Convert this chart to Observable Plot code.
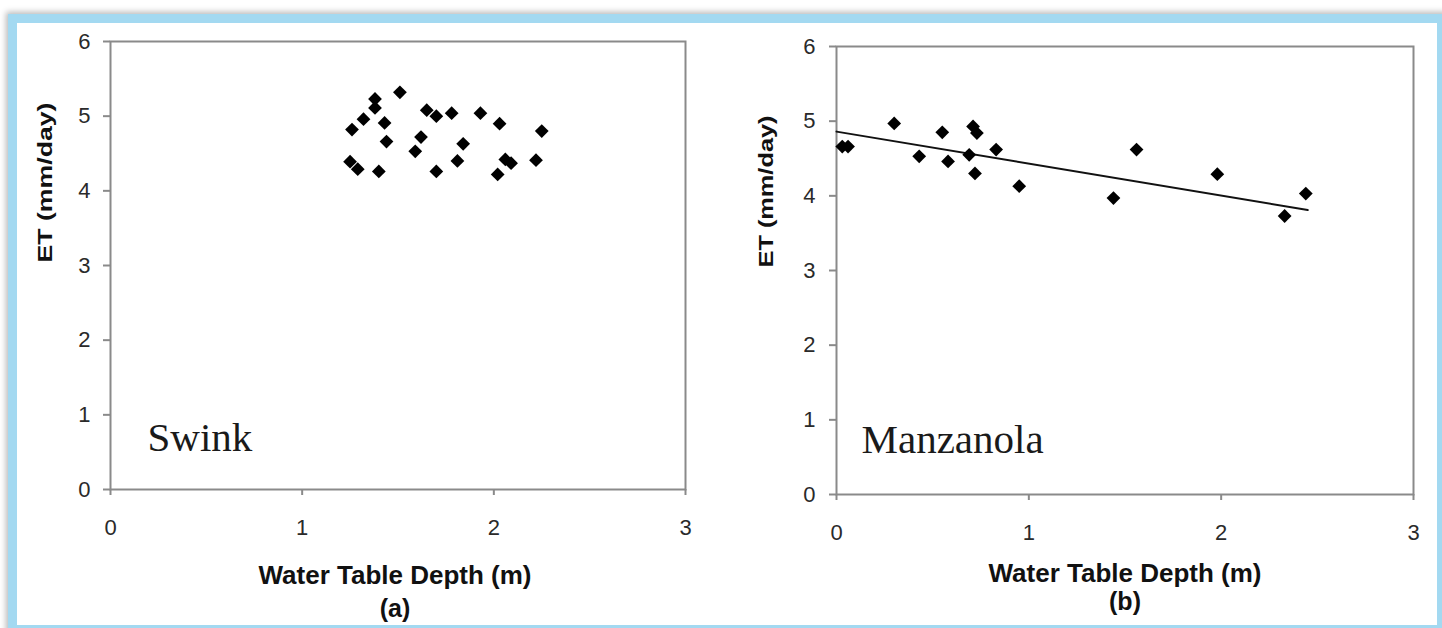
<!DOCTYPE html>
<html><head><meta charset="utf-8">
<script src="https://cdn.jsdelivr.net/npm/d3@7"></script>
<script src="https://cdn.jsdelivr.net/npm/@observablehq/plot@0.6"></script>
<style>
html,body{margin:0;padding:0;width:1442px;height:628px;overflow:hidden;background:#fff;}
#frame{position:absolute;left:8px;top:14px;width:1420px;height:602px;border:9px solid #a3d9f1;box-shadow:0 0 6px 2px rgba(0,0,0,0.28);background:#fff;}
#a,#b{position:absolute;top:0;}
#a{left:0;} #b{left:720px;}
</style></head><body>
<div id="frame"></div>
<div id="a"></div><div id="b"></div>
<script>
// ---- data ----
const xTicks = [0, 1, 2, 3];
const yTicks = [0, 1, 2, 3, 4, 5, 6];
const xTitle = "Water Table Depth (m)";
const yTitle = "ET (mm/day)";

const swinkName = "Swink";
const swinkTag = "(a)";
const swinkDepth = [1.51,1.38,1.38,1.32,1.26,1.43,1.65,1.70,1.78,1.93,2.03,2.25,1.62,1.44,1.84,1.59,1.25,1.29,1.40,1.81,1.70,2.06,2.09,2.22,2.02];
const swinkET    = [5.32,5.23,5.11,4.96,4.82,4.91,5.08,5.00,5.04,5.04,4.90,4.80,4.72,4.66,4.63,4.53,4.39,4.29,4.26,4.40,4.26,4.42,4.37,4.41,4.22];

const manzName = "Manzanola";
const manzTag = "(b)";
const manzDepth = [0.03,0.06,0.30,0.43,0.55,0.58,0.71,0.73,0.69,0.83,0.72,0.95,1.44,1.56,1.98,2.33,2.44];
const manzET    = [4.66,4.66,4.97,4.53,4.85,4.46,4.93,4.84,4.55,4.62,4.30,4.13,3.97,4.62,4.29,3.73,4.03];
const manzTrendDepth = [0, 2.45];
const manzTrendET    = [4.86, 3.81];

// ---- drawing ----
const SANS = "'Liberation Sans', Arial, sans-serif";
const AXIS = "#8a8a8a";

function panel(o) {
  const pts = o.depth.map((d, i) => ({depth: d, et: o.et[i]}));
  const marks = [
    Plot.frame({stroke: AXIS, strokeWidth: 2}),
    Plot.axisX({ticks: xTicks, tickFormat: d => String(d), tickSize: 6, tickPadding: 24,
      stroke: AXIS, strokeWidth: 2, color: "#2a2a2a", label: null}),
    Plot.axisY({ticks: yTicks, tickFormat: d => String(d), tickSize: 7, tickPadding: o.yPad,
      stroke: AXIS, strokeWidth: 2, color: "#2a2a2a", label: null}),
  ];
  if (o.trendX) {
    const tr = o.trendX.map((d, i) => ({depth: d, et: o.trendY[i]}));
    marks.push(Plot.line(tr, {x: "depth", y: "et", stroke: "#111", strokeWidth: 2}));
  }
  marks.push(
    Plot.dot(pts, {x: "depth", y: "et", symbol: "diamond2", r: 6.2, fill: "#000", stroke: "none"}),
    Plot.text([o.name], {text: d => d, frameAnchor: "bottom-left", textAnchor: "start", lineAnchor: "bottom",
      dx: o.nameDx, dy: o.nameDy, fontFamily: "'Liberation Serif', 'Times New Roman', serif", fontSize: 41, fill: "#1a1a1a"}),
    Plot.text([yTitle], {text: d => d, frameAnchor: "left", rotate: -90, dx: o.etDx, dy: o.etDy,
      fontFamily: SANS, fontSize: 20, fontWeight: "bold", fill: "#111"}),
    Plot.text([xTitle], {text: d => d, frameAnchor: "bottom", lineAnchor: "bottom", dx: o.tDx, dy: o.tDy,
      fontFamily: SANS, fontSize: 26, fontWeight: "bold", fill: "#111"}),
    Plot.text([o.tag], {text: d => d, frameAnchor: "bottom", lineAnchor: "bottom", dx: o.tDx, dy: o.sDy,
      fontFamily: SANS, fontSize: 25, fontWeight: "bold", fill: "#111"})
  );
  const svg = Plot.plot({
    width: o.width, height: 628,
    marginLeft: o.ml, marginRight: o.mr, marginTop: o.mt, marginBottom: o.mb,
    x: {domain: [0, 3]}, y: {domain: [0, 6]},
    style: {background: "transparent", overflow: "visible", fontFamily: SANS, fontSize: "22px"},
    marks
  });
  const s = d3.select(svg);
  s.selectAll("text").filter(function(){ return /^[0-9]$/.test(this.textContent); })
    .style("font-size", "22px").style("font-family", SANS).style("fill", "#2a2a2a");
  s.selectAll("text").filter(function(){ return this.textContent === yTitle; })
    .attr("textLength", o.etLen).attr("lengthAdjust", "spacingAndGlyphs");
  return svg;
}

document.getElementById("a").appendChild(panel({
  depth: swinkDepth, et: swinkET, name: swinkName, tag: swinkTag,
  width: 720, ml: 110, mr: 35, mt: 41, mb: 139, yPad: 13,
  nameDx: 37, nameDy: -39, etDx: -65, etDy: -3, etLen: 160, tDx: -3, tDy: 94, sDy: 127
}));
document.getElementById("b").appendChild(panel({
  depth: manzDepth, et: manzET, name: manzName, tag: manzTag, trendX: manzTrendDepth, trendY: manzTrendET,
  width: 722, ml: 116, mr: 29, mt: 46, mb: 134, yPad: 14,
  nameDx: 25, nameDy: -42, etDx: -70, etDy: -3, etLen: 152, tDx: 0, tDy: 87, sDy: 115
}));
</script>
</body></html>
